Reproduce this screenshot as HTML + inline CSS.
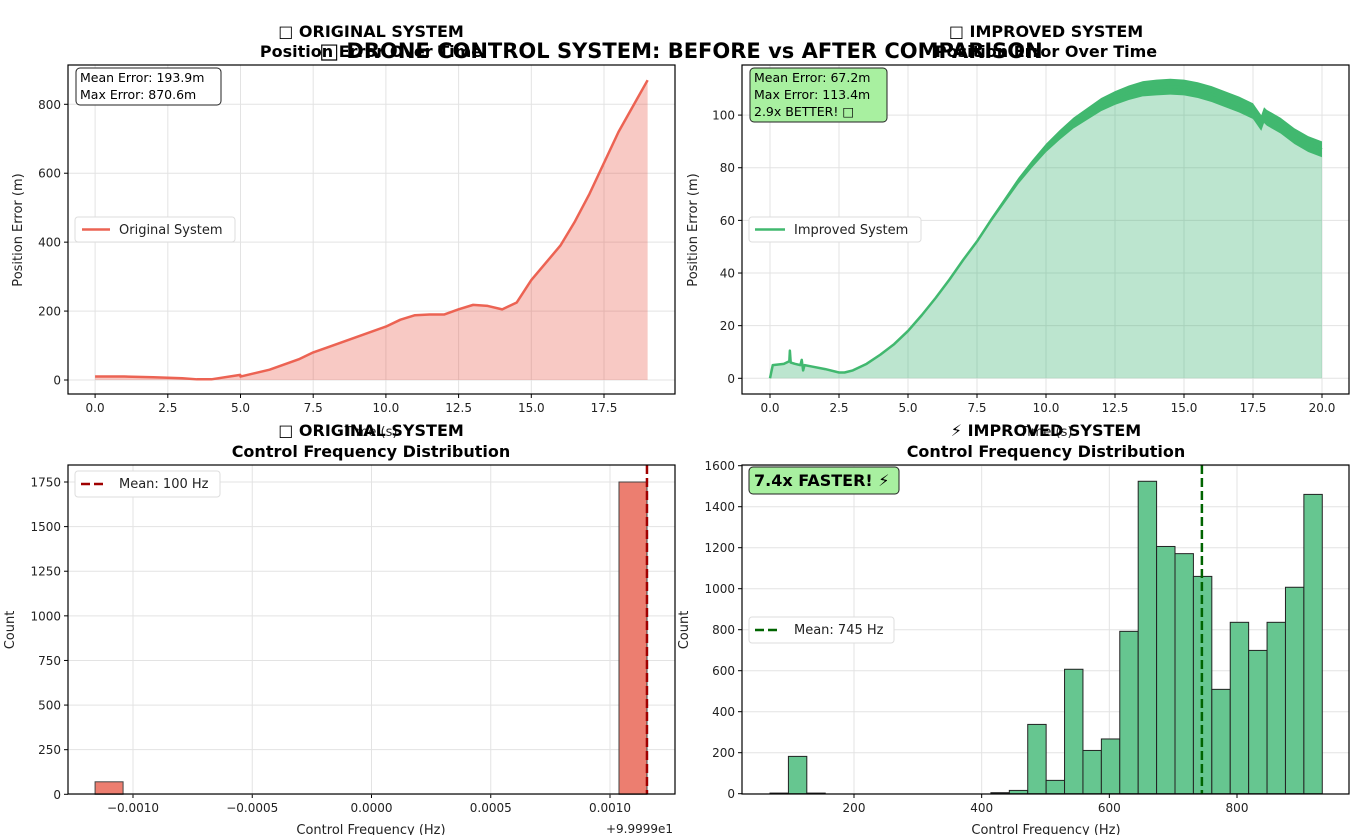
<!DOCTYPE html>
<html><head><meta charset="utf-8">
<style>
body{margin:0;background:#fff;}
svg{display:block;font-family:"DejaVu Sans","Liberation Sans","Noto Sans CJK SC",sans-serif;}
.tk{font-size:12px;fill:#222}
.grid{stroke:#e3e3e3;stroke-width:1}
</style></head>
<body>
<svg id="c" width="1362" height="835" viewBox="0 0 1362 835"></svg>
<script>
// ---- data ----
const origT=[0,1,2,3,3.5,4,4.99,5,6,7,7.5,8,9,10,10.5,11,11.5,12,12.5,13,13.5,14,14.5,15,16,16.5,17,17.5,18,19];
const origV=[10,10,8,5,2,2,15,10,30,60,80,95,125,155,175,188,190,190,205,218,215,205,225,290,390,460,540,630,720,870];
const impT=[0,0.1,0.5,0.7,0.72,0.75,0.9,1.1,1.15,1.2,1.25,1.5,2,2.5,2.7,3,3.5,4,4.5,5,5.5,6,6.5,7,7.5,8,8.5,9,9.5,10,10.5,11,11.5,12,12.5,13,13.5,14,14.5,15,15.5,16,16.5,17,17.5,17.8,17.9,18,18.5,19,19.5,20];
const impV=[0,5,5.5,6.5,10.5,6,5.5,5,7,3,5,4.5,3.5,2.2,2.2,3,5.5,9,13,18,24,30.5,37.5,45,52,60,67.5,75,81.5,87.5,92.5,97,100.5,104,106.5,108.5,110,110.5,110.8,110.5,109.5,108,106,104,101.5,97,100,99,96,92,89,87];
const bandT=[0,7,9,12,14,17,20];
const bandW=[0,0.4,1.2,2.5,3,3,3];
const origCounts=[70,1750];
const origBinLeft=[-0.001159,0.0010377];
const origBinWidth=0.0001174;
const origMean=0.001155;
const impBinStart=68.4, impBinWidth=28.84;
const impCounts=[3,182,3,0,0,0,0,0,0,0,0,0,5,16,338,65,607,211,267,792,1524,1206,1171,1060,509,836,699,836,1007,1460];
const impMean=745;
const tlXTicks=[0,2.5,5,7.5,10,12.5,15,17.5];
const tlYTicks=[0,200,400,600,800];
const trXTicks=[0,2.5,5,7.5,10,12.5,15,17.5,20];
const trYTicks=[0,20,40,60,80,100];
const blXTicks=[-0.001,-0.0005,0,0.0005,0.001];
const blXLabels=["\u22120.0010","\u22120.0005","0.0000","0.0005","0.0010"];
const blYTicks=[0,250,500,750,1000,1250,1500,1750];
const brXTicks=[200,400,600,800];
const brYTicks=[0,200,400,600,800,1000,1200,1400,1600];

const svg=document.getElementById('c');
const NS='http://www.w3.org/2000/svg';
function mk(tag,attrs,parent,text){const e=document.createElementNS(NS,tag);for(const k in attrs)e.setAttribute(k,attrs[k]);if(text!==undefined)e.textContent=text;(parent||svg).appendChild(e);return e;}
function lin(d0,d1,r0,r1){return v=>r0+(v-d0)*(r1-r0)/(d1-d0);}

const P={tl:{x0:68,x1:675,y0:65,y1:394},tr:{x0:742,x1:1349,y0:65,y1:394},bl:{x0:68,x1:675,y0:465,y1:794},br:{x0:742,x1:1349,y0:465,y1:794}};
const sx={tl:lin(0,17.5,95.1,604),tr:lin(0,20,770,1322),bl:lin(0,0.001,371.5,610),br:lin(200,800,854,1237)};
const sy={tl:lin(0,800,380,104.3),tr:lin(0,100,378.3,115.1),bl:lin(0,1750,794.3,482),br:lin(0,1600,793.7,465.7)};

function axes(key,xt,xl,yt,yl,name){
  const p=P[key],g=mk('g',{});
  
  
  xt.forEach((v,i)=>{const x=sx[key](v);
    mk('line',{x1:x,x2:x,y1:p.y0,y2:p.y1,class:'grid'},g);
    mk('line',{x1:x,x2:x,y1:p.y1,y2:p.y1+4,stroke:'#000'},g);
    const tx=mk('text',{x:x,y:p.y1+18,'text-anchor':'middle',class:'tk'},g,xl[i]);
    
    });
  yt.forEach((v,i)=>{const y=sy[key](v);
    mk('line',{x1:p.x0,x2:p.x1,y1:y,y2:y,class:'grid'},g);
    mk('line',{x1:p.x0-4,x2:p.x0,y1:y,y2:y,stroke:'#000'},g);
    const tx=mk('text',{x:p.x0-7,y:y+4.5,'text-anchor':'end',class:'tk'},g,yl[i]);
    
    });
  return g;
}
function frame(key){const p=P[key];const r=mk('rect',{x:p.x0,y:p.y0,width:p.x1-p.x0,height:p.y1-p.y0,fill:'none',stroke:'#000','stroke-width':1.2});
  
  }
function fmt1(v){return v.toFixed(1);}

// ---- TL ----
axes('tl',tlXTicks,tlXTicks.map(fmt1),tlYTicks,tlYTicks.map(String),'original-error');
{let pts=origT.map((t,i)=>sx.tl(t)+','+sy.tl(origV[i]));
 const f=mk('polygon',{points:sx.tl(origT[0])+','+sy.tl(0)+' '+pts.join(' ')+' '+sx.tl(origT[origT.length-1])+','+sy.tl(0),fill:'#e74c3c','fill-opacity':0.3});
 
 
 const l=mk('polyline',{points:pts.join(' '),fill:'none',stroke:'#ec6353','stroke-width':2.5,'stroke-linejoin':'round'});
 
 }
frame('tl');

// ---- TR ----
axes('tr',trXTicks,trXTicks.map(fmt1),trYTicks,trYTicks.map(String),'improved-error');
function bw(t){for(let i=1;i<bandT.length;i++){if(t<=bandT[i]){const a=(t-bandT[i-1])/(bandT[i]-bandT[i-1]);return bandW[i-1]+a*(bandW[i]-bandW[i-1]);}}return bandW[bandW.length-1];}
{let pts=impT.map((t,i)=>sx.tr(t)+','+sy.tr(impV[i]));
 const f=mk('polygon',{points:sx.tr(0)+','+sy.tr(0)+' '+pts.join(' ')+' '+sx.tr(20)+','+sy.tr(0),fill:'#3cb371','fill-opacity':0.34});
 
 
 const up=impT.map((t,i)=>sx.tr(t)+','+sy.tr(impV[i]+bw(t)));
 const lo=impT.map((t,i)=>sx.tr(t)+','+sy.tr(impV[i]-bw(t))).reverse();
 const b=mk('polygon',{points:up.concat(lo).join(' '),fill:'#41b86f'});
 
 
 const l=mk('polyline',{points:pts.join(' '),fill:'none',stroke:'#41b86f','stroke-width':2.5,'stroke-linejoin':'round'});
 
 }
frame('tr');

// ---- BL ----
axes('bl',blXTicks,blXLabels,blYTicks,blYTicks.map(String),'original-frequency');
origCounts.forEach((c,i)=>{const x0=sx.bl(origBinLeft[i]),x1=sx.bl(origBinLeft[i]+origBinWidth),y=sy.bl(c);
  const r=mk('rect',{x:x0,y:y,width:x1-x0,height:sy.bl(0)-y,fill:'#ec7e70',stroke:'#444','stroke-width':1});
  
  });
{const x=sx.bl(origMean);const m=mk('line',{x1:x,x2:x,y1:P.bl.y0,y2:P.bl.y1,stroke:'#a00000','stroke-width':2.5,'stroke-dasharray':'9,4'});
 
 }
frame('bl');

// ---- BR ----
axes('br',brXTicks,brXTicks.map(String),brYTicks,brYTicks.map(String),'improved-frequency');
impCounts.forEach((c,i)=>{if(c<=0)return;const x0=sx.br(impBinStart+i*impBinWidth),x1=sx.br(impBinStart+(i+1)*impBinWidth),y=sy.br(c);
  const r=mk('rect',{x:x0,y:y,width:x1-x0,height:sy.br(0)-y,fill:'#66c690',stroke:'#222','stroke-width':1});
  
  });
{const x=sx.br(impMean);const m=mk('line',{x1:x,x2:x,y1:P.br.y0,y2:P.br.y1,stroke:'#006400','stroke-width':2.5,'stroke-dasharray':'9,4'});
 
 }
frame('br');
</script>
<svg width="1362" height="835" style="position:absolute;left:0;top:0">
 <g font-family="DejaVu Sans, Liberation Sans, Noto Sans CJK SC, sans-serif">
  <text x="371" y="37" text-anchor="middle" font-size="16" font-weight="bold">□ ORIGINAL SYSTEM</text>
  <text x="371" y="57" text-anchor="middle" font-size="16" font-weight="bold">Position Error Over Time</text>
  <text x="1046" y="37" text-anchor="middle" font-size="16" font-weight="bold">□ IMPROVED SYSTEM</text>
  <text x="1046" y="57" text-anchor="middle" font-size="16" font-weight="bold">Position Error Over Time</text>
  <text x="681" y="58" text-anchor="middle" font-size="21" font-weight="bold">□ DRONE CONTROL SYSTEM: BEFORE vs AFTER COMPARISON</text>
  <text x="371" y="436" text-anchor="middle" font-size="13" fill="#222">Time (s)</text>
  <text x="1046" y="436" text-anchor="middle" font-size="13" fill="#222">Time (s)</text>
  <text x="371" y="436" text-anchor="middle" font-size="16" font-weight="bold">□ ORIGINAL SYSTEM</text>
  <text x="371" y="457" text-anchor="middle" font-size="16" font-weight="bold">Control Frequency Distribution</text>
  <text x="1046" y="436" text-anchor="middle" font-size="16" font-weight="bold">⚡ IMPROVED SYSTEM</text>
  <text x="1046" y="457" text-anchor="middle" font-size="16" font-weight="bold">Control Frequency Distribution</text>
  <text transform="translate(22,230) rotate(-90)" text-anchor="middle" font-size="13" fill="#222">Position Error (m)</text>
  <text transform="translate(697,230) rotate(-90)" text-anchor="middle" font-size="13" fill="#222">Position Error (m)</text>
  <text transform="translate(14,630) rotate(-90)" text-anchor="middle" font-size="13" fill="#222">Count</text>
  <text transform="translate(688,630) rotate(-90)" text-anchor="middle" font-size="13" fill="#222">Count</text>
  <text x="371" y="834" text-anchor="middle" font-size="13" fill="#222">Control Frequency (Hz)</text>
  <text x="1046" y="834" text-anchor="middle" font-size="13" fill="#222">Control Frequency (Hz)</text>
  <text x="673" y="833" text-anchor="end" font-size="12" fill="#222">+9.9999e1</text>
  <g>
   <rect x="76" y="68" width="145" height="37" rx="4" fill="#fff" stroke="#222"/>
   <text x="80" y="82" font-size="12.5" fill="#000">Mean Error: 193.9m</text>
   <text x="80" y="99" font-size="12.5" fill="#000">Max Error: 870.6m</text>
  </g>
  <g>
   <rect x="750" y="68" width="137" height="54" rx="4" fill="#a8f0a0" stroke="#222"/>
   <text x="754" y="82" font-size="12.5" fill="#000">Mean Error: 67.2m</text>
   <text x="754" y="99" font-size="12.5" fill="#000">Max Error: 113.4m</text>
   <text x="754" y="116" font-size="12.5" fill="#000">2.9x BETTER! □</text>
  </g>
  <g>
   <rect x="749" y="467" width="150" height="27" rx="4" fill="#a8f0a0" stroke="#222"/>
   <text x="754" y="486" font-size="16" font-weight="bold" fill="#000">7.4x FASTER! ⚡</text>
  </g>
  <g>
   <rect x="75" y="217" width="160" height="25" rx="3" fill="#fff" stroke="#ddd"/>
   <line x1="82" x2="110" y1="229.5" y2="229.5" stroke="#ec6353" stroke-width="2.5"/>
   <text x="119" y="234" font-size="13" fill="#222">Original System</text>
  </g>
  <g>
   <rect x="749" y="217" width="172" height="25" rx="3" fill="#fff" stroke="#ddd"/>
   <line x1="755" x2="785" y1="229.5" y2="229.5" stroke="#41b86f" stroke-width="2.5"/>
   <text x="794" y="234" font-size="13" fill="#222">Improved System</text>
  </g>
  <g>
   <rect x="75" y="471" width="145" height="26" rx="3" fill="#fff" stroke="#ddd"/>
   <line x1="81" x2="107" y1="484" y2="484" stroke="#a00000" stroke-width="2.5" stroke-dasharray="9,4"/>
   <text x="119" y="488" font-size="13" fill="#222">Mean: 100 Hz</text>
  </g>
  <g>
   <rect x="749" y="617" width="145" height="26" rx="3" fill="#fff" stroke="#ddd"/>
   <line x1="755" x2="781" y1="630" y2="630" stroke="#006400" stroke-width="2.5" stroke-dasharray="9,4"/>
   <text x="794" y="634" font-size="13" fill="#222">Mean: 745 Hz</text>
  </g>
 </g>
</svg>
</body></html>
